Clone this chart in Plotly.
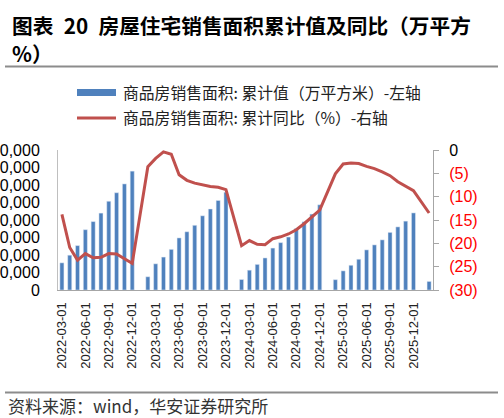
import plotly.graph_objects as go

##### Data #####
months = [
    "2022-03-01", "2022-04-01", "2022-05-01", "2022-06-01", "2022-07-01", "2022-08-01",
    "2022-09-01", "2022-10-01", "2022-11-01", "2022-12-01",
    "2023-01-01", "2023-02-01", "2023-03-01", "2023-04-01", "2023-05-01", "2023-06-01",
    "2023-07-01", "2023-08-01", "2023-09-01", "2023-10-01", "2023-11-01", "2023-12-01",
    "2024-01-01", "2024-02-01", "2024-03-01", "2024-04-01", "2024-05-01", "2024-06-01",
    "2024-07-01", "2024-08-01", "2024-09-01", "2024-10-01", "2024-11-01", "2024-12-01",
    "2025-01-01", "2025-02-01", "2025-03-01", "2025-04-01", "2025-05-01", "2025-06-01",
    "2025-07-01", "2025-08-01", "2025-09-01", "2025-10-01", "2025-11-01", "2025-12-01",
    "2026-01-01", "2026-02-01",
]

# 商品房销售面积 累计值 (万平方米), January is not published
area_cum = [
    31046, 39768, 50738, 68923, 78178, 87890, 101422, 111179, 121250, 135837,
    None, 15133, 29946, 37636, 46440, 59515, 66563, 73949, 84806, 92579, 102306, 111735,
    None, 12000, 22668, 29252, 36642, 47916, 54139, 60538, 70284, 77930, 86724, 97385,
    None, 11800, 21869, 28262, 35152, 45851, 51560, 57304, 65835, 72123, 78702, 88101,
    None, 9800,
]

# 累计同比 (%)
area_yoy = [
    -13.8, -20.9, -23.6, -22.2, -23.1, -23.0, -22.2, -22.3, -23.3, -24.3,
    None, -3.6, -1.8, -0.4, -0.9, -5.3, -6.5, -7.1, -7.5, -7.8, -8.0, -8.5,
    None, -20.5, -19.4, -20.2, -20.3, -19.0, -18.6, -18.0, -17.1, -15.8, -14.3, -12.9,
    None, -5.1, -3.0, -2.8, -2.9, -3.5, -4.0, -4.7, -5.5, -6.8, -7.8, -8.7,
    None, -13.5,
]

x_ticks = months[::3][:16]
left_ticks = [0, 20000, 40000, 60000, 80000, 100000, 120000, 140000, 160000]
right_ticks = [0, -5, -10, -15, -20, -25, -30]

title_line1 = "图表\u200220\u2002房屋住宅销售面积累计值及同比（万平方"
title_line2 = "%）"
legend_bar = "商品房销售面积: 累计值（万平方米）-左轴"
legend_line = "商品房销售面积: 累计同比（%）-右轴"
source_text = "资料来源：wind，华安证券研究所"

BLUE = "#4F81BD"
RED = "#C0504D"
CJK = "Noto Sans CJK SC"
LATIN = "Arial, Liberation Sans, sans-serif"

W, H = 504, 418
L, R, T, B = 58, 71, 150, 128


def px(x):
    return (x - L) / (W - L - R)


def py(y):
    return (H - B - y) / (H - T - B)


fig = go.Figure()
fig.add_trace(go.Bar(x=months, y=area_cum, marker_color=BLUE, name=legend_bar,
                     showlegend=False))
fig.add_trace(go.Scatter(x=months, y=area_yoy, yaxis="y2", mode="lines",
                         connectgaps=True, line=dict(color=RED, width=3),
                         name=legend_line, showlegend=False))

right_text = ["0" if v == 0 else '<span style="color:#FF0000">(%d)</span>' % -v
              for v in right_ticks]

fig.update_layout(
    width=W, height=H, autosize=False,
    margin=dict(l=L, r=R, t=T, b=B),
    paper_bgcolor="white", plot_bgcolor="white",
    bargap=0.48,
    font=dict(family=LATIN, color="black"),
    xaxis=dict(type="category", categoryorder="array", categoryarray=months,
               range=[-0.5, len(months) - 0.5],
               tickmode="array", tickvals=x_ticks, ticktext=x_ticks,
               tickangle=-90, tickfont=dict(size=13, color="#222"),
               showgrid=False, showline=True, linecolor="#A6A6A6", linewidth=1,
               ticks="", ticklabelstandoff=6, automargin=False),
    yaxis=dict(range=[0, 160000], tickmode="array", tickvals=left_ticks,
               tickformat=",d", tickfont=dict(size=16),
               showgrid=False, zeroline=False, showline=True,
               linecolor="#BFBFBF", linewidth=1, ticks="",
               ticklabelstandoff=14, automargin=False),
    yaxis2=dict(range=[-30, 0], overlaying="y", side="right",
                tickmode="array", tickvals=right_ticks, ticktext=right_text,
                tickfont=dict(size=16), showgrid=False, zeroline=False,
                showline=True, linecolor="#A6A6A6", linewidth=1,
                ticks="outside", ticklen=5, tickcolor="#A6A6A6",
                ticklabelstandoff=7, automargin=False),
)

# title, rules, legend and source drawn by hand like the original report
fig.add_annotation(x=px(10), y=py(25), xref="paper", yref="paper", text="<b>%s</b>" % title_line1,
                   showarrow=False, xanchor="left", yanchor="middle",
                   font=dict(family=CJK, size=20.7, color="black"))
fig.add_annotation(x=px(10), y=py(53), xref="paper", yref="paper", text="<b>%s</b>" % title_line2,
                   showarrow=False, xanchor="left", yanchor="middle",
                   font=dict(family=CJK, size=20.7, color="black"))

for yy in (66.5, 392.5):
    fig.add_shape(type="line", xref="paper", yref="paper",
                  x0=px(5), x1=px(498), y0=py(yy), y1=py(yy),
                  line=dict(color="#8C8C8C", width=2))

fig.add_shape(type="line", xref="paper", yref="paper",
              x0=px(77), x1=px(116), y0=py(92.5), y1=py(92.5),
              line=dict(color=BLUE, width=7))
fig.add_shape(type="line", xref="paper", yref="paper",
              x0=px(77), x1=px(116), y0=py(118), y1=py(118),
              line=dict(color=RED, width=3))
fig.add_annotation(x=px(121), y=py(92.5), xref="paper", yref="paper", text=legend_bar,
                   showarrow=False, xanchor="left", yanchor="middle",
                   font=dict(family=CJK, size=15.8, color="#222"))
fig.add_annotation(x=px(121), y=py(118), xref="paper", yref="paper", text=legend_line,
                   showarrow=False, xanchor="left", yanchor="middle",
                   font=dict(family=CJK, size=15.8, color="#222"))

fig.add_annotation(x=px(6), y=py(405), xref="paper", yref="paper", text=source_text,
                   showarrow=False, xanchor="left", yanchor="middle",
                   font=dict(family=CJK, size=17, color="#333"))

# the page body has an 8px default margin; drop it so the figure fills the window
fig.write_html("out.html", config={"displayModeBar": False},
               post_script="document.body.style.margin='0';")
